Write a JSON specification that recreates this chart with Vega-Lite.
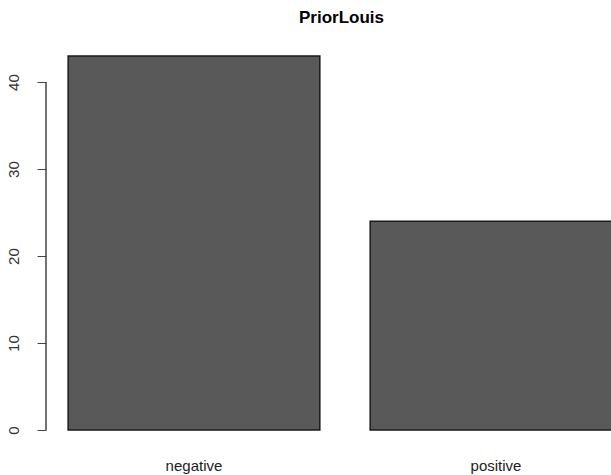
{
  "$schema": "https://vega.github.io/schema/vega-lite/v6.json",
  "width": 565,
  "height": 404,
  "autosize": {"type": "none"},
  "padding": {"left": 46, "top": 41, "right": 0, "bottom": 30},
  "background": "white",
  "title": {"text": "PriorLouis", "font": "Liberation Sans", "fontSize": 17, "fontWeight": "bold", "color": "#000", "anchor": "middle", "dx": 13, "offset": 14},
  "data": {"values": [
    {"category": "negative", "count": 43},
    {"category": "positive", "count": 24}
  ]},
  "layer": [
    {
      "mark": {"type": "bar", "fill": "#595959", "stroke": "#1a1a1a", "strokeWidth": 1.5, "clip": true},
      "encoding": {
        "x": {
          "field": "category", "type": "nominal", "sort": null,
          "scale": {"range": [0, 598], "paddingInner": 0.1667, "paddingOuter": 0.0733},
          "axis": {"title": null, "domain": false, "ticks": false, "labelAngle": 0, "labelPadding": 13, "labelFont": "Liberation Sans", "labelFontSize": 15, "labelColor": "#222"}
        },
        "y": {
          "field": "count", "type": "quantitative",
          "scale": {"domain": [-1.72, 44.72], "nice": false, "zero": false},
          "axis": {"title": null, "values": [0, 10, 20, 30, 40], "domain": false, "grid": false, "tickSize": 9, "tickColor": "#444", "labelAngle": 270, "labelAlign": "center", "labelBaseline": "bottom", "labelPadding": 16, "labelFont": "Liberation Sans", "labelFontSize": 15, "labelColor": "#333"}
        }
      }
    },
    {
      "mark": {"type": "rule", "color": "#444", "strokeWidth": 1},
      "encoding": {"x": {"value": 0}, "y": {"datum": 0}, "y2": {"datum": 40}}
    }
  ],
  "config": {"view": {"stroke": null}}
}
